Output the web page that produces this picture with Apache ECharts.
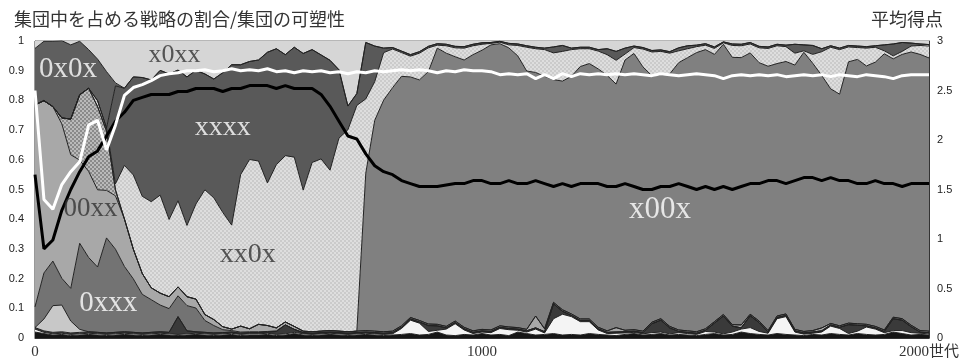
<!DOCTYPE html>
<html><head><meta charset="utf-8">
<script src="https://cdn.jsdelivr.net/npm/echarts@6/dist/echarts.min.js"></script>
<style>html,body{margin:0;padding:0;background:#fff}#c{width:963px;height:364px}</style>
</head><body><div id="c"></div>
<script>
// generation sample grid (every 20 generations, 0..2000)
const gens = [];
for (let g = 0; g <= 2000; g += 20) gens.push(g);

// strategy shares, stacked bottom -> top (each 101 values)
const xxx0 = [0.02,0.015,0.01,0.012,0.008,0.01,0.012,0.01,0.008,0.01,
 0.012,0.01,0.008,0.01,0.012,0.01,0.008,0.01,0.012,0.01,
 0.008,0.01,0.012,0.008,0.01,0.01,0.012,0.008,0.01,0.015,
 0.01,0.008,0.01,0.012,0.01,0.008,0.01,0.012,0.01,0.008,
 0.01,0.012,0.015,0.01,0.012,0.02,0.01,0.008,0.012,0.01,
 0.015,0.01,0.012,0.008,0.02,0.015,0.01,0.012,0.015,0.01,
 0.012,0.01,0.015,0.012,0.01,0.008,0.012,0.015,0.01,0.012,
 0.015,0.01,0.012,0.01,0.008,0.012,0.015,0.01,0.012,0.02,
 0.015,0.012,0.01,0.015,0.012,0.01,0.008,0.012,0.01,0.015,
 0.012,0.01,0.015,0.012,0.01,0.012,0.02,0.015,0.01,0.012,
 0.01];
const s0x00 = [0.01,0.004,0.004,0.004,0.004,0.004,0.004,0.004,0.004,0.004,
 0.004,0.004,0.004,0.004,0.004,0.004,0.004,0.004,0.004,0.004,
 0.004,0.004,0.004,0.004,0.004,0.004,0.004,0.004,0.004,0.004,
 0.004,0.004,0.004,0.004,0.004,0.004,0.004,0.004,0.004,0.004,
 0.004,0.02,0.045,0.04,0.01,0.006,0.02,0.04,0.015,0.005,
 0.005,0.008,0.02,0.02,0.006,0.005,0.02,0.005,0.05,0.07,
 0.06,0.045,0.04,0.015,0.005,0.008,0.005,0.004,0.004,0.006,
 0.005,0.004,0.006,0.005,0.004,0.01,0.005,0.004,0.008,0.01,
 0.02,0.01,0.006,0.05,0.06,0.01,0.005,0.004,0.01,0.025,
 0.02,0.005,0.008,0.025,0.02,0.006,0.005,0.01,0.008,0.004,
 0.004];
const s000x = [0.005,0.005,0.005,0.005,0.005,0.005,0.005,0.005,0.005,0.005,
 0.005,0.005,0.005,0.005,0.005,0.005,0.06,0.01,0.005,0.005,
 0.005,0.004,0.004,0.004,0.004,0.004,0.004,0.01,0.03,0.01,
 0.004,0.004,0.004,0.004,0.004,0.004,0.004,0.004,0.004,0.004,
 0.004,0.004,0.004,0.004,0.02,0.015,0.004,0.004,0.004,0.004,
 0.004,0.004,0.004,0.004,0.004,0.004,0.004,0.004,0.05,0.01,
 0.004,0.004,0.004,0.004,0.004,0.004,0.004,0.004,0.004,0.03,
 0.04,0.02,0.004,0.004,0.004,0.004,0.03,0.06,0.02,0.004,
 0.04,0.03,0.004,0.004,0.004,0.004,0.004,0.004,0.004,0.004,
 0.004,0.03,0.02,0.004,0.004,0.004,0.04,0.035,0.02,0.004,
 0.004];
const s0000 = [0,0.04,0.09,0.09,0.04,0.01,0,0,0,0,
 0,0,0,0,0,0,0,0,0,0, 0,0,0,0,0,0,0,0,0,0, 0,0,0,0,0,0,0,0,0,0,
 0,0,0,0,0,0,0,0,0,0, 0,0,0,0,0,0,0,0,0,0, 0,0,0,0,0,0,0,0,0,0,
 0,0,0,0,0,0,0,0,0,0, 0,0,0,0,0,0,0,0,0,0, 0,0,0,0,0,0,0,0,0,0, 0];
const s0xxx = [0.07,0.155,0.15,0.09,0.11,0.29,0.25,0.22,0.32,0.28,
 0.22,0.18,0.13,0.11,0.09,0.08,0.07,0.085,0.08,0.04,
 0.025,0.01,0.005,0.004,0.003,0.003,0.002,0.002,0,0,
 0,0,0,0,0,0,0,0,0,0, 0,0,0,0,0,0,0,0,0,0, 0,0,0,0,0,0,0,0,0,0,
 0,0,0,0,0,0,0,0,0,0, 0,0,0,0,0,0,0,0,0,0, 0,0,0,0,0,0,0,0,0,0,
 0,0,0,0,0,0,0,0,0,0, 0];
const s00xx = [0.68,0.58,0.52,0.52,0.45,0.28,0.29,0.26,0.16,0.18,
 0.16,0.1,0.07,0.04,0.04,0.04,0.03,0.03,0.03,0.02,
 0.02,0.01,0.005,0.02,0.01,0.025,0.02,0.01,0.01,0.01,
 0.005,0.005,0.005,0.005,0.005,0.005,0.005,0.005,0.005,0.005,
 0.005,0.005,0.005,0.005,0.005,0.005,0.005,0.005,0.005,0.005,
 0.005,0.005,0.005,0.005,0.005,0.005,0.04,0.01,0.005,0.005,
 0.005,0.005,0.005,0.005,0.005,0.015,0.005,0.005,0.005,0.005,
 0.005,0.005,0.005,0.005,0.005,0.005,0.005,0.005,0.005,0.01,
 0.005,0.005,0.005,0.005,0.005,0.005,0.005,0.005,0.01,0.005,
 0.005,0.005,0.005,0.005,0.005,0.005,0.005,0.005,0.005,0.005,
 0.005];
const s0xx0 = [0,0,0,0.02,0.12,0.22,0.28,0.28,0.2,0.02,
 0,0,0,0,0,0,0,0,0,0, 0,0,0,0,0,0,0,0,0,0, 0,0,0,0,0,0,0,0,0,0,
 0,0,0,0,0,0,0,0,0,0, 0,0,0,0,0,0,0,0,0,0, 0,0,0,0,0,0,0,0,0,0,
 0,0,0,0,0,0,0,0,0,0, 0,0,0,0,0,0,0,0,0,0, 0,0,0,0,0,0,0,0,0,0, 0];
const sx00x = [0,0,0,0,0,0,0,0,0,0, 0,0,0,0,0,0,0,0,0,0, 0,0,0,0,0,0,0,0,0,0,
 0,0,0,0,0,0,0,0.53,0.71,0.78,
 0.82,0.84,0.81,0.81,0.85,0.93,0.92,0.89,0.9,0.93,
 0.94,0.96,0.95,0.94,0.915,0.87,0.82,0.85,0.75,0.77,
 0.8,0.85,0.86,0.87,0.86,0.82,0.91,0.93,0.89,0.83,
 0.82,0.85,0.9,0.92,0.94,0.94,0.9,0.91,0.9,0.9,
 0.88,0.87,0.89,0.85,0.85,0.89,0.94,0.9,0.85,0.79,
 0.78,0.88,0.89,0.87,0.89,0.93,0.87,0.89,0.92,0.93,
 0.92];
const sxx0x = [0,0,0,0,0,0,0,0.02,0.01,0.02,
 0.18,0.25,0.26,0.29,0.33,0.26,0.29,0.24,0.32,0.42,
 0.41,0.385,0.35,0.51,0.57,0.55,0.48,0.55,0.56,0.57,
 0.475,0.57,0.58,0.54,0.65,0.68,0.76,0.25,0.13,0.16,
 0.13,0.08,0.07,0.09,0.08,0.01,0.025,0.03,0.04,0.03,
 0.02,0.005,0.005,0.01,0.035,0.08,0.08,0.09,0.09,0.1,
 0.09,0.06,0.05,0.06,0.07,0.08,0.02,0.02,0.06,0.08,
 0.08,0.07,0.04,0.03,0.02,0.015,0.02,0.005,0.04,0.04,
 0.03,0.05,0.06,0.06,0.05,0.04,0.005,0.03,0.08,0.14,
 0.15,0.05,0.04,0.06,0.05,0.01,0.01,0.01,0.02,0.03,
 0.04];
const sxxxx = [0,0,0,0,0,0,0,0,0,0.33,
 0.26,0.33,0.4,0.41,0.42,0.49,0.44,0.5,0.45,0.39,
 0.4,0.47,0.54,0.37,0.33,0.34,0.44,0.39,0.34,0.37,
 0.46,0.38,0.35,0.37,0.23,0.08,0.04,0.19,0.12,0.015,
 0.005,0.005,0.005,0.005,0.005,0.005,0.005,0.005,0.005,0.005,
 0.005,0.003,0.003,0.005,0.005,0.005,0.005,0.005,0.02,0.02,
 0.005,0.005,0.005,0.005,0.02,0.03,0.02,0.005,0.005,0.005,
 0.005,0.005,0.01,0.01,0.005,0.005,0.005,0.003,0.005,0.005,
 0.005,0.005,0.005,0.005,0.005,0.03,0.02,0.03,0.01,0.005,
 0.005,0.005,0.005,0.005,0.005,0.02,0.04,0.03,0.01,0.005,
 0.005];
const s0x0x = [0.19,0.2,0.22,0.26,0.25,0.18,0.13,0.14,0.19,0.01,
 0,0,0,0,0,0,0,0,0,0, 0,0,0,0,0,0,0,0,0,0, 0,0,0,0,0,0,0,0,0,0,
 0,0,0,0,0,0,0,0,0,0, 0,0,0,0,0,0,0,0,0,0, 0,0,0,0,0,0,0,0,0,0,
 0,0,0,0,0,0,0,0,0,0, 0,0,0,0,0,0,0,0,0,0, 0,0,0,0,0,0,0,0,0,0, 0];
const sx0xx = [0.06,0.03,0.03,0.03,0.04,0.03,0.06,0.09,0.13,0.17,
 0.18,0.14,0.14,0.15,0.12,0.13,0.12,0.14,0.12,0.13,
 0.15,0.13,0.1,0.1,0.09,0.08,0.06,0.05,0.06,0.05,
 0.06,0.05,0.07,0.09,0.12,0.24,0.2,0.03,0.04,0.04,
 0.05,0.06,0.07,0.06,0.05,0.05,0.05,0.05,0.05,0.05,
 0.05,0.05,0.05,0.05,0.05,0.05,0.05,0.05,0.04,0.04,
 0.05,0.05,0.05,0.05,0.05,0.04,0.05,0.05,0.05,0.05,
 0.05,0.05,0.05,0.05,0.05,0.05,0.05,0.05,0.05,0.05,
 0.05,0.05,0.05,0.05,0.05,0.04,0.05,0.04,0.05,0.05,
 0.05,0.05,0.05,0.05,0.05,0.05,0.05,0.05,0.05,0.05,
 0.05];

// plasticity (left axis) and average score (right axis)
const plasticity = [0.55,0.3,0.33,0.43,0.5,0.56,0.61,0.63,0.68,0.73,
 0.76,0.8,0.81,0.82,0.82,0.82,0.83,0.83,0.84,0.84,
 0.84,0.83,0.84,0.84,0.85,0.85,0.85,0.84,0.85,0.84,
 0.84,0.84,0.82,0.78,0.73,0.68,0.67,0.62,0.58,0.56,
 0.55,0.53,0.52,0.51,0.51,0.51,0.515,0.52,0.52,0.53,
 0.53,0.52,0.52,0.53,0.52,0.52,0.53,0.52,0.51,0.52,
 0.51,0.52,0.52,0.52,0.51,0.51,0.52,0.51,0.5,0.5,
 0.51,0.51,0.52,0.51,0.5,0.51,0.5,0.51,0.5,0.51,
 0.52,0.52,0.53,0.53,0.52,0.53,0.54,0.54,0.53,0.54,
 0.53,0.53,0.52,0.52,0.53,0.52,0.52,0.51,0.52,0.52,
 0.52];
const avgScore = [2.5,1.4,1.3,1.55,1.68,1.78,2.15,2.2,1.9,2.15,
 2.45,2.53,2.56,2.6,2.65,2.67,2.68,2.7,2.7,2.71,
 2.69,2.7,2.72,2.7,2.71,2.7,2.72,2.69,2.7,2.68,
 2.7,2.69,2.7,2.68,2.69,2.67,2.69,2.68,2.7,2.69,
 2.7,2.71,2.7,2.71,2.7,2.68,2.7,2.69,2.71,2.7,
 2.7,2.69,2.66,2.67,2.66,2.67,2.62,2.66,2.62,2.67,
 2.64,2.67,2.66,2.67,2.66,2.67,2.66,2.67,2.66,2.65,
 2.67,2.66,2.65,2.66,2.67,2.66,2.65,2.62,2.65,2.66,
 2.65,2.66,2.65,2.66,2.64,2.65,2.66,2.65,2.66,2.64,
 2.66,2.65,2.64,2.66,2.65,2.64,2.62,2.65,2.66,2.66,
 2.66];

// tick labels / texts
const leftMax = 1, rightMax = 3;
const xTicks = [0,1000,2000];
const xUnit = '世代';

// in-plot strategy labels, anchored in data space (generation, share)
const labelNames = ['0x0x','x0xx','xxxx','00xx','0xxx','xx0x','x00x'];
const labelGens  = [74, 312, 420, 124, 164, 476, 1398];
const labelVals  = [0.906, 0.953, 0.707, 0.434, 0.118, 0.279, 0.431];
const labelColors= ['#ffffff','#333333','#ffffff','#333333','#ffffff','#333333','#ffffff'];
const labelSizes = [29, 26, 28, 27, 29, 28, 31];

function pattern(c1, c2) {
  const cv = document.createElement('canvas');
  cv.width = 4; cv.height = 4;
  const ctx = cv.getContext('2d');
  ctx.fillStyle = c1; ctx.fillRect(0,0,4,4);
  ctx.fillStyle = c2; ctx.fillRect(0,0,2,2); ctx.fillRect(2,2,2,2);
  return { image: cv, repeat: 'repeat' };
}

const layers = [
  { name: 'xxx0', data: xxx0,  color: '#151515' },
  { name: '0x00', data: s0x00, color: '#f4f4f4' },
  { name: '000x', data: s000x, color: '#3a3a3a' },
  { name: '0000', data: s0000, color: '#c8c8c8' },
  { name: '0xxx', data: s0xxx, color: '#737373' },
  { name: '00xx', data: s00xx, color: '#a8a8a8' },
  { name: '0xx0', data: s0xx0, color: pattern('#8a8a8a', '#bababa') },
  { name: 'x00x', data: sx00x, color: '#808080' },
  { name: 'xx0x', data: sxx0x, color: pattern('#dedede', '#cbcbcb') },
  { name: 'xxxx', data: sxxxx, color: '#595959' },
  { name: '0x0x', data: s0x0x, color: '#5f5f5f' },
  { name: 'x0xx', data: sx0xx, color: '#d6d6d6' }
];

const series = layers.map(l => ({
  type: 'line', name: l.name, stack: 'share',
  data: l.data,
  symbol: 'none', showSymbol: false, silent: true,
  lineStyle: { width: 1, color: '#222' },
  areaStyle: { color: l.color, opacity: 1 },
  z: 2
}));
series.push({
  type: 'line', name: 'plasticity', yAxisIndex: 0,
  data: plasticity,
  symbol: 'none', silent: true,
  lineStyle: { width: 3, color: '#000' }, z: 5
});
series.push({
  type: 'line', name: 'score', yAxisIndex: 1,
  data: avgScore,
  symbol: 'none', silent: true,
  lineStyle: { width: 3, color: '#fff' }, z: 5
});
series.push({
  type: 'scatter', xAxisIndex: 1, yAxisIndex: 0, symbolSize: 0, silent: true, z: 10,
  data: labelNames.map((n, i) => ({
    name: n, value: [labelGens[i], labelVals[i]],
    label: { color: labelColors[i], fontSize: labelSizes[i] }
  })),
  label: { show: true, position: 'inside', formatter: p => p.name,
           fontFamily: 'Liberation Serif', fontWeight: 'normal' }
});

const chart = echarts.init(document.getElementById('c'), null, { renderer: 'canvas' });
chart.setOption({
  animation: false,
  backgroundColor: '#fff',
  title: [
    { text: '集団中を占める戦略の割合/集団の可塑性', left: 9, top: 5,
      textStyle: { fontFamily: 'Noto Sans CJK JP', fontSize: 18, fontWeight: 'normal', color: '#333' } },
    { text: '平均得点', right: 15, top: 5,
      textStyle: { fontFamily: 'Noto Sans CJK JP', fontSize: 18, fontWeight: 'normal', color: '#333' } }
  ],
  grid: { left: 35, right: 34, top: 41, bottom: 26, show: true, borderColor: '#333', borderWidth: 1 },
  xAxis: [
    { type: 'category', data: gens.map(String), boundaryGap: false,
      axisLine: { show: true, lineStyle: { color: '#333' } },
      axisTick: { show: false }, splitLine: { show: false },
      axisLabel: { margin: 7, fontSize: 15, color: '#333', fontFamily: "'Liberation Serif','Noto Sans CJK JP'",
        interval: (idx, v) => xTicks.indexOf(Number(v)) >= 0,
        formatter: v => Number(v) === xTicks[xTicks.length - 1] ? v + xUnit : v } },
    { type: 'value', min: xTicks[0], max: xTicks[xTicks.length - 1], show: false }
  ],
  yAxis: [
    { type: 'value', min: 0, max: leftMax, interval: 0.1, position: 'left',
      axisLine: { show: true, lineStyle: { color: '#333' } },
      axisTick: { show: true, inside: true, length: 4, lineStyle: { color: '#333' } },
      splitLine: { show: false },
      axisLabel: { margin: 11, fontSize: 11, color: '#222', fontFamily: 'Liberation Sans',
        formatter: v => String(Math.round(v * 10) / 10) } },
    { type: 'value', min: 0, max: rightMax, interval: 0.5, position: 'right',
      axisLine: { show: true, lineStyle: { color: '#333' } },
      axisTick: { show: true, inside: true, length: 4, lineStyle: { color: '#333' } },
      splitLine: { show: false },
      axisLabel: { margin: 8, fontSize: 11, color: '#222', fontFamily: 'Liberation Sans' } }
  ],
  series: series
});
</script>
</body></html>
